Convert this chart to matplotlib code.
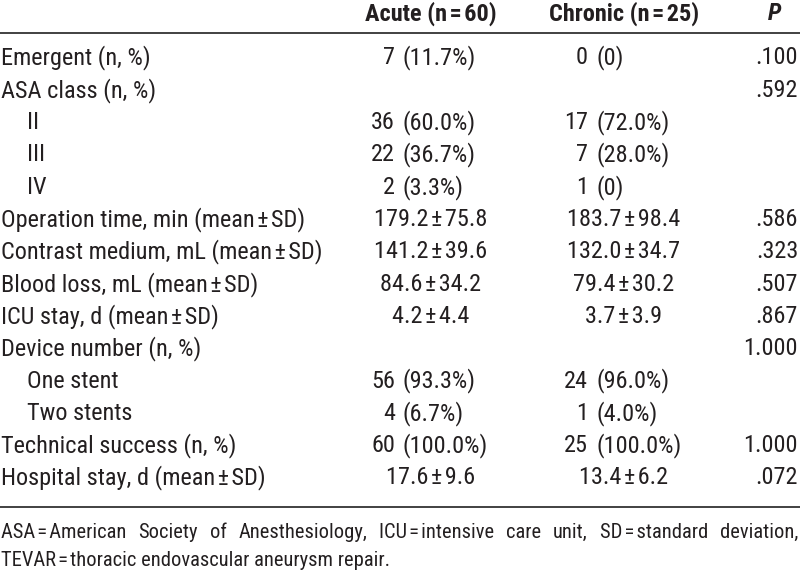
import matplotlib
matplotlib.use("Agg")
import matplotlib.pyplot as plt

plt.rcParams['font.family'] = ['Roboto Condensed', 'DejaVu Sans']

hs = "\u200a"  # hair space around = and ±
pm = hs + "±" + hs

# table content
labels = ["Emergent (n, %)", "ASA class (n, %)", "II", "III", "IV",
          "Operation time, min (mean" + pm + "SD)", "Contrast medium, mL (mean" + pm + "SD)",
          "Blood loss, mL (mean" + pm + "SD)", "ICU stay, d (mean" + pm + "SD)",
          "Device number (n, %)", "One stent", "Two stents",
          "Technical success (n, %)", "Hospital stay, d (mean" + pm + "SD)"]
indented = [False, False, True, True, True, False, False, False, False,
            False, True, True, False, False]
acute = ["7 (11.7%)", "", "36 (60.0%)", "22 (36.7%)", "2 (3.3%)",
         "179.2" + pm + "75.8", "141.2" + pm + "39.6", "84.6" + pm + "34.2", "4.2" + pm + "4.4",
         "", "56 (93.3%)", "4 (6.7%)", "60 (100.0%)", "17.6" + pm + "9.6"]
chronic = ["0 (0)", "", "17 (72.0%)", "7 (28.0%)", "1 (0)",
           "183.7" + pm + "98.4", "132.0" + pm + "34.7", "79.4" + pm + "30.2", "3.7" + pm + "3.9",
           "", "24 (96.0%)", "1 (4.0%)", "25 (100.0%)", "13.4" + pm + "6.2"]
p_values = [".100", ".592", "", "", "", ".586", ".323", ".507", ".867",
            "1.000", "", "", "1.000", ".072"]
headers = ["Acute (n" + hs + "=" + hs + "60)", "Chronic (n" + hs + "=" + hs + "25)", "P"]
footnote = ["ASA" + hs + "=" + hs + "American Society of Anesthesiology, ICU" + hs + "=" + hs +
            "intensive care unit, SD" + hs + "=" + hs + "standard deviation,",
            "TEVAR" + hs + "=" + hs + "thoracic endovascular aneurysm repair."]

W, H = 800, 573
ink = "#231f20"
fs = 17.5
fs_note = 14.8

fig = plt.figure(figsize=(W / 100, H / 100), dpi=100)
ax = fig.add_axes([0, 0, 1, 1])
ax.set_xlim(0, W)
ax.set_ylim(H, 0)
ax.axis("off")

# column geometry (pixels)
col_center = [431, 624]
col_num_right = [395, 588]
col_paren_left = [403, 596]
p_right = 798
p_center = 775
row0, row_step = 58, 32.3
header_y = 14

ax.text(col_center[0], header_y, headers[0], ha="center", va="center",
        fontsize=fs, fontweight="bold", color=ink)
ax.text(col_center[1], header_y, headers[1], ha="center", va="center",
        fontsize=fs, fontweight="bold", color=ink)
ax.text(p_center, header_y, headers[2], ha="center", va="center",
        fontsize=fs, fontweight="bold", fontstyle="italic", color=ink)

ax.plot([0, W], [33, 33], color="#333333", lw=1.3, solid_capstyle="butt")
ax.plot([0, W], [507, 507], color="#333333", lw=1.3, solid_capstyle="butt")

for i, lab in enumerate(labels):
    y = row0 + i * row_step
    x = 27 if indented[i] else 1
    ax.text(x, y, lab, ha="left", va="center", fontsize=fs, color=ink)
    for c, val in enumerate([acute[i], chronic[i]]):
        if not val:
            continue
        if "(" in val:
            num, pct = val.split(" ", 1)
            ax.text(col_num_right[c], y, num, ha="right", va="center", fontsize=fs, color=ink)
            ax.text(col_paren_left[c], y, pct, ha="left", va="center", fontsize=fs, color=ink)
        else:
            ax.text(col_center[c], y, val, ha="center", va="center", fontsize=fs, color=ink)
    if p_values[i]:
        ax.text(p_right, y, p_values[i], ha="right", va="center", fontsize=fs, color=ink)

# footnote: first line justified across the full width
fig.canvas.draw()
renderer = fig.canvas.get_renderer()
inv = ax.transData.inverted()
words = footnote[0].split(" ")
widths = []
for w in words:
    t = ax.text(0, 0, w, fontsize=fs_note, color=ink)
    bb = t.get_window_extent(renderer)
    (x0, _), (x1, _) = inv.transform([[bb.x0, bb.y0], [bb.x1, bb.y1]])
    widths.append(x1 - x0)
    t.remove()
gap = (797 - sum(widths)) / (len(words) - 1)
x = 1
for w, wd in zip(words, widths):
    ax.text(x, 532, w, ha="left", va="center", fontsize=fs_note, color=ink)
    x += wd + gap
ax.text(1, 560, footnote[1], ha="left", va="center", fontsize=fs_note, color=ink)

fig.savefig("out.png", dpi=100)
